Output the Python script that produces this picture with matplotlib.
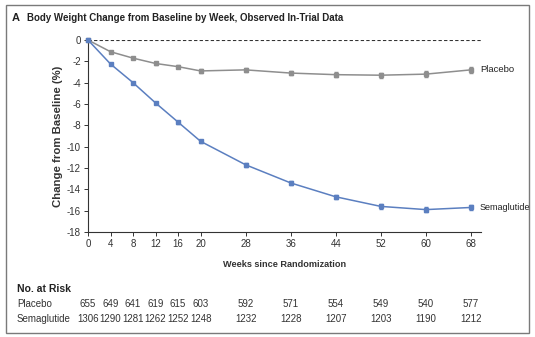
import matplotlib
matplotlib.use('Agg')
import matplotlib.pyplot as plt
from matplotlib.patches import Rectangle

plt.rcParams['font.family'] = ['Liberation Sans Narrow', 'Liberation Sans', 'DejaVu Sans']

# данные
weeks = [0, 4, 8, 12, 16, 20, 28, 36, 44, 52, 60, 68]
semaglutide = [0, -2.25, -4.0, -5.9, -7.7, -9.5, -11.7, -13.4, -14.7, -15.6, -15.9, -15.7]
placebo = [0, -1.1, -1.7, -2.2, -2.5, -2.9, -2.8, -3.1, -3.25, -3.3, -3.2, -2.8]
sema_err = [0, 0.1, 0.1, 0.12, 0.14, 0.15, 0.16, 0.18, 0.2, 0.22, 0.22, 0.22]
plac_err = [0, 0.1, 0.12, 0.14, 0.15, 0.17, 0.2, 0.22, 0.24, 0.25, 0.25, 0.26]
risk_placebo = [655, 649, 641, 619, 615, 603, 592, 571, 554, 549, 540, 577]
risk_sema = [1306, 1290, 1281, 1262, 1252, 1248, 1232, 1228, 1207, 1203, 1190, 1212]
yticks = list(range(0, -19, -2))

blue = '#5b7fc0'
gray = '#8e8e8e'

fig = plt.figure(figsize=(5.35, 3.37), dpi=100)
W, H = 535, 337

# рамка вокруг рисунка
fig.patches.append(Rectangle((6 / W, 4 / H), 523 / W, 328 / H, transform=fig.transFigure,
                             fill=False, edgecolor='#7a7a7a', linewidth=1.0))

ax = fig.add_axes([88 / W, 1 - 232 / H, 393 / W, 192 / H])
ax.set_xlim(0, 69.8)
ax.set_ylim(-18, 0)

ax.axhline(0, color='#333333', linestyle=(0, (3, 2)), linewidth=0.8, zorder=1)

ax.errorbar(weeks, placebo, yerr=plac_err, color=gray, marker='s', markersize=2.6,
            linewidth=1.1, elinewidth=0.8, capsize=1.5, clip_on=False, zorder=3)
ax.errorbar(weeks, semaglutide, yerr=sema_err, color=blue, marker='s', markersize=2.6,
            linewidth=1.1, elinewidth=0.8, capsize=1.5, clip_on=False, zorder=4)

ax.text(69.7, placebo[-1], 'Placebo', fontsize=6.8, va='center', ha='left', color='#222222')
ax.text(69.5, semaglutide[-1], 'Semaglutide', fontsize=6.5, va='center', ha='left', color='#222222')

for s in ['top', 'right']:
    ax.spines[s].set_visible(False)
for s in ['left', 'bottom']:
    ax.spines[s].set_color('#333333')
    ax.spines[s].set_linewidth(0.8)

ax.set_xticks(weeks)
ax.set_xticklabels([str(w) for w in weeks])
ax.set_yticks(yticks)
ax.set_yticklabels([str(t) for t in yticks])
ax.tick_params(labelsize=7, length=3, width=0.7, color='#333333', labelcolor='#333333', pad=2)

ax.set_xlabel('Weeks since Randomization', fontsize=6.6, fontweight='bold', color='#333333', labelpad=8)
ax.set_ylabel('Change from Baseline (%)', fontsize=8.2, fontweight='bold', color='#333333', labelpad=3)

# заголовок
fig.text(12 / W, 1 - 18 / H, 'A', fontsize=8, fontweight='bold', va='center', color='#222222')
fig.text(27 / W, 1 - 18 / H, 'Body Weight Change from Baseline by Week, Observed In-Trial Data',
         fontsize=7.0, fontweight='semibold', va='center', color='#222222')

# число пациентов под риском
fig.text(17 / W, 1 - 289 / H, 'No. at Risk', fontsize=7.5, fontweight='bold', va='center', color='#222222')
fig.text(17 / W, 1 - 304 / H, 'Placebo', fontsize=7, va='center', color='#333333')
fig.text(17 / W, 1 - 319 / H, 'Semaglutide', fontsize=7, va='center', color='#333333')
for w, p, s in zip(weeks, risk_placebo, risk_sema):
    xf = (88 + w * 393 / 69.8) / W
    fig.text(xf, 1 - 304 / H, str(p), fontsize=7, ha='center', va='center', color='#333333')
    fig.text(xf, 1 - 319 / H, str(s), fontsize=7, ha='center', va='center', color='#333333')

fig.savefig('out.png', dpi=100)
